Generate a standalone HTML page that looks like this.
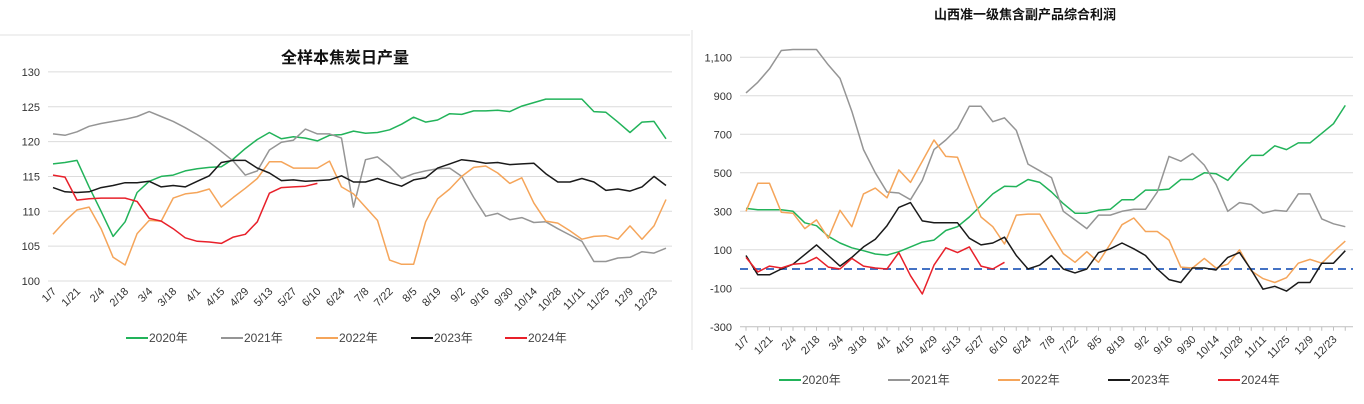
<!DOCTYPE html>
<html><head><meta charset="utf-8">
<style>
html,body{margin:0;padding:0;background:#fff;}
svg{display:block;font-family:"Liberation Sans","Noto Sans CJK SC",sans-serif;}
</style></head>
<body>
<svg id="root" width="1364" height="404" viewBox="0 0 1364 404">
<line x1="0" y1="35" x2="690" y2="35" stroke="#e0e0e0"/>
<line x1="692" y1="30" x2="692" y2="350" stroke="#e0e0e0"/>
<text x="345" y="63" text-anchor="middle" font-size="16" font-weight="bold" fill="#111">全样本焦炭日产量</text>
<text x="1025" y="19" text-anchor="middle" font-size="13" font-weight="bold" fill="#111">山西准一级焦含副产品综合利润</text>
<g id="left"></g>
<g id="right"></g>
</svg>
<script>
const weekLabels = ["1/7","1/21","2/4","2/18","3/4","3/18","4/1","4/15","4/29","5/13","5/27","6/10","6/24","7/8","7/22","8/5","8/19","9/2","9/16","9/30","10/14","10/28","11/11","11/25","12/9","12/23"];
const seriesNames = ["2020年","2021年","2022年","2023年","2024年"];
const seriesColors = ["#22b35a","#959595","#f5a55a","#1a1a1a","#e8202a"];

const leftTicks = [100,105,110,115,120,125,130];
const left2020 = [116.8,117.0,117.3,113.5,110,106.4,108.5,112.7,114.3,115.0,115.2,115.8,116.1,116.3,116.4,117.5,119,120.3,121.3,120.4,120.7,120.5,120.1,120.9,121.0,121.5,121.2,121.3,121.7,122.5,123.5,122.8,123.1,124.0,123.9,124.4,124.4,124.5,124.3,125.1,125.6,126.1,126.1,126.1,126.1,124.3,124.2,122.8,121.3,122.8,122.9,120.4];
const left2021 = [121.1,120.9,121.4,122.2,122.6,122.9,123.2,123.6,124.3,123.6,122.9,122.0,121.0,119.9,118.6,117.2,115.2,115.8,118.8,119.9,120.2,121.8,121.1,121.1,120.5,110.6,117.4,117.8,116.4,114.7,115.4,115.8,116.1,116.2,115.0,112,109.3,109.7,108.8,109.1,108.4,108.5,107.5,106.6,105.7,102.8,102.8,103.3,103.4,104.2,104.0,104.7];
const left2022 = [106.7,108.6,110.2,110.6,107.5,103.4,102.3,106.8,108.7,108.6,111.9,112.5,112.7,113.2,110.6,112,113.3,114.7,117.1,117.1,116.2,116.2,116.2,117.2,113.5,112.5,110.6,108.7,103.0,102.4,102.4,108.5,111.8,113.2,115.0,116.3,116.5,115.5,114.0,114.8,111.2,108.6,108.3,107.2,106.0,106.4,106.5,106.0,107.9,106.0,107.9,111.7];
const left2023 = [113.4,112.8,112.7,112.8,113.4,113.7,114.1,114.1,114.3,113.5,113.7,113.5,114.3,115.1,117.0,117.3,117.3,116.2,115.5,114.4,114.5,114.3,114.4,114.5,115.1,114.2,114.2,114.7,114.1,113.6,114.5,114.8,116.2,116.8,117.4,117.2,116.9,117.0,116.7,116.8,116.9,115.4,114.2,114.2,114.7,114.2,113.0,113.2,112.9,113.5,115.0,113.7];
const left2024 = [115.2,114.9,111.6,111.8,111.9,111.9,111.9,111.4,109.0,108.6,107.5,106.2,105.7,105.6,105.4,106.3,106.7,108.5,112.6,113.4,113.5,113.6,114.0];

const rightTicks = [-300,-100,100,300,500,700,900,1100];
const right2020 = [315,308,308,308,300,240,225,170,135,110,95,78,72,90,115,140,150,200,220,270,330,390,430,428,465,450,400,340,290,290,305,310,360,360,410,410,415,465,465,500,495,460,530,590,590,640,620,655,655,705,755,850];
const right2021 = [915,970,1040,1135,1140,1140,1140,1060,990,820,620,500,400,395,360,460,620,670,730,845,845,765,785,720,545,510,475,300,255,210,280,280,300,310,310,400,585,560,600,540,440,300,345,335,290,305,300,390,390,260,235,220];
const right2022 = [300,445,445,295,290,210,255,160,305,220,390,420,370,515,450,560,670,585,580,420,270,220,130,280,285,285,180,80,35,90,35,130,230,265,195,195,150,10,5,55,5,25,100,-10,-50,-70,-45,30,50,30,90,145];
const right2023 = [70,-30,-30,0,25,75,125,70,15,60,115,155,225,320,345,250,240,240,240,160,125,135,165,70,0,20,70,0,-20,0,85,105,135,105,70,0,-55,-70,5,5,-5,60,85,-5,-105,-90,-115,-70,-70,30,30,95];
const right2024 = [60,-15,15,5,25,30,60,10,0,55,15,5,0,85,-35,-130,20,110,85,115,15,0,35];

const NS="http://www.w3.org/2000/svg";
function mk(parent,tag,attrs){const e=document.createElementNS(NS,tag);for(const k in attrs)e.setAttribute(k,attrs[k]);parent.appendChild(e);return e;}

function drawChart(g, cfg){
  const {x,y,ticks,tickFmt,gx1,gx2,series,labelY,legendX,legendY,axisTicks,prefix}=cfg;
  ticks.forEach(t=>{
    const isAxis = axisTicks && t===ticks[0];
    const gl=mk(g,'line',{x1:gx1,x2:gx2,y1:y(t),y2:y(t),stroke:isAxis?'#bfbfbf':'#dcdcdc','stroke-width':1});
    
    
    const tl=mk(g,'text',{x:gx1-8,y:y(t)+4,'text-anchor':'end','font-size':11,fill:'#333'});
    tl.textContent=tickFmt(t);
    
    
  });
  if(axisTicks){
    for(let i=0;i<52;i++){
      const tk=mk(g,'line',{x1:x(i),x2:x(i),y1:y(ticks[0]),y2:y(ticks[0])+4,stroke:'#bfbfbf'});
      
      
    }
  }
  weekLabels.forEach((l,k)=>{
    const px=x(k*2)+4, py=labelY;
    const t=mk(g,'text',{x:px,y:py,'text-anchor':'end','font-size':11,fill:'#333',transform:`rotate(-45 ${px} ${py})`});
    t.textContent=l;
    
    
  });
  if(cfg.zeroLine){
    const z=mk(g,'line',{x1:gx1,x2:gx2,y1:y(0),y2:y(0),stroke:'#4472c4','stroke-width':2,'stroke-dasharray':'8,5'});
    
    
  }
  series.forEach((s,si)=>{
    const p=mk(g,'polyline',{points:s.map((v,i)=>x(i).toFixed(1)+','+y(v).toFixed(1)).join(' '),fill:'none',stroke:seriesColors[si],'stroke-width':1.5,'stroke-linejoin':'round'});
    
    
  });
  seriesNames.forEach((n,si)=>{
    const lg=mk(g,'g',{});
    
    
    mk(lg,'line',{x1:legendX[si],x2:legendX[si]+22,y1:legendY-4,y2:legendY-4,stroke:seriesColors[si],'stroke-width':2});
    const t=mk(lg,'text',{x:legendX[si]+23,y:legendY,'font-size':12,fill:'#444'});
    t.textContent=n;
  });
}

drawChart(document.getElementById('left'),{
  prefix:'left',
  x:i=>53+i*12.02, y:v=>281-(v-100)*6.97,
  ticks:leftTicks, tickFmt:t=>String(t), gx1:48, gx2:672,
  series:[left2020,left2021,left2022,left2023,left2024],
  labelY:292, legendX:[126,221,316,411,505], legendY:342, axisTicks:false
});
drawChart(document.getElementById('right'),{
  prefix:'right',
  x:i=>746+i*11.75, y:v=>269-v*0.1925,
  ticks:rightTicks, tickFmt:t=>t.toLocaleString('en-US'), gx1:740, gx2:1353,
  series:[right2020,right2021,right2022,right2023,right2024],
  labelY:340, legendX:[779,888,998,1108,1218], legendY:384, axisTicks:true, zeroLine:true
});
</script>
</body></html>
